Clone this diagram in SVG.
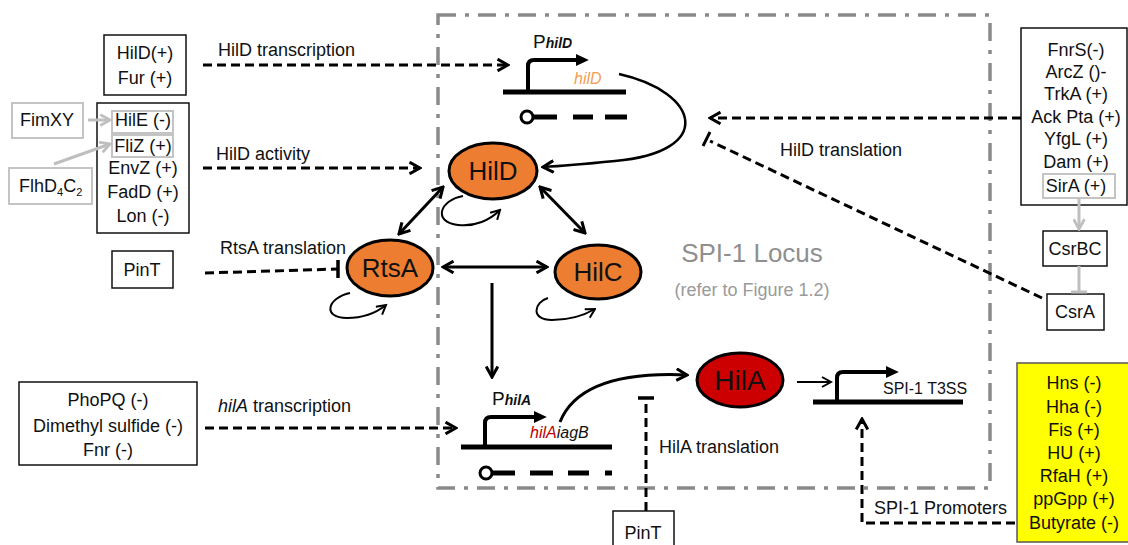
<svg xmlns="http://www.w3.org/2000/svg" width="1128" height="545" viewBox="0 0 1128 545">
<defs>
<style>
text{font-family:"Liberation Sans",Arial,sans-serif;fill:#111;}
.t{font-size:18px;}
.tc{font-size:18px;text-anchor:middle;}
.nl{font-size:26px;text-anchor:middle;}
.box{fill:#fff;stroke:#111;stroke-width:1.5;}
.gbox{fill:#fff;stroke:#c4c4c4;stroke-width:2;}
.dash{fill:none;stroke:#000;stroke-width:3;stroke-dasharray:9 5;}
.solid{fill:none;stroke:#000;stroke-width:3;}
.loop{fill:none;stroke:#000;stroke-width:2;}
.gray{fill:none;stroke:#bfbfbf;stroke-width:3;}
.dna{fill:none;stroke:#000;stroke-width:5;}
.prom{fill:none;stroke:#000;stroke-width:4;stroke-linejoin:round;}
.node{fill:#ed7d31;stroke:#000;stroke-width:3;}
</style>
<marker id="open" viewBox="0 0 12 12" markerUnits="userSpaceOnUse" markerWidth="14" markerHeight="14" refX="10.5" refY="6" orient="auto-start-reverse">
<path d="M1.5,1 L10.5,6 L1.5,11" fill="none" stroke="#000" stroke-width="2.6"/>
</marker>
<marker id="openS" viewBox="0 0 12 12" markerUnits="userSpaceOnUse" markerWidth="12" markerHeight="12" refX="10.5" refY="6" orient="auto">
<path d="M1.5,1 L10.5,6 L1.5,11" fill="none" stroke="#000" stroke-width="2"/>
</marker>
<marker id="grayOpen" viewBox="0 0 12 12" markerUnits="userSpaceOnUse" markerWidth="13" markerHeight="13" refX="10.5" refY="6" orient="auto">
<path d="M1.5,1 L10.5,6 L1.5,11" fill="none" stroke="#bfbfbf" stroke-width="2.6"/>
</marker>
<marker id="tri" viewBox="0 0 12 12" markerUnits="userSpaceOnUse" markerWidth="13" markerHeight="13" refX="2" refY="6" orient="auto">
<path d="M0,0.5 L12,6 L0,11.5 Z" fill="#000"/>
</marker>
</defs>
<rect width="1128" height="545" fill="#fff"/>

<!-- SPI-1 locus border -->
<g id="locus">
<rect x="438" y="15" width="552" height="473" fill="none" stroke="#8a8a8a" stroke-width="3.5" stroke-dasharray="18 9 4 9"/>
<text x="752" y="262" style="font-size:26px;fill:#8f8f8f;text-anchor:middle">SPI-1 Locus</text>
<text x="752" y="296" style="font-size:18px;fill:#9a9a9a;text-anchor:middle">(refer to Figure 1.2)</text>
</g>

<!-- regulator boxes -->
<g id="box-hild-fur">
<rect class="box" x="104" y="35" width="82" height="60"/>
<text class="tc" x="145" y="59">HilD(+)</text>
<text class="tc" x="145" y="84">Fur (+)</text>
</g>
<g id="box-hile">
<rect class="box" x="97" y="103" width="92" height="130"/>
<rect class="gbox" x="112" y="111" width="61" height="22"/>
<rect class="gbox" x="112" y="135" width="61" height="22"/>
<text class="tc" x="143" y="126">HilE (-)</text>
<text class="tc" x="143" y="152">FliZ (+)</text>
<text class="tc" x="143" y="174">EnvZ (+)</text>
<text class="tc" x="143" y="198">FadD (+)</text>
<text class="tc" x="143" y="222">Lon (-)</text>
</g>
<g id="box-fimxy">
<rect class="gbox" x="12" y="103" width="71" height="35"/>
<text class="tc" x="47" y="126">FimXY</text>
</g>
<g id="box-flhdc">
<rect class="gbox" x="9" y="168" width="83" height="36"/>
<text class="t" x="19" y="192">FlhD<tspan dy="4" style="font-size:11px">4</tspan><tspan dy="-4">C</tspan><tspan dy="4" style="font-size:11px">2</tspan></text>
</g>
<g id="box-pint-left">
<rect class="box" x="112" y="251" width="61" height="37"/>
<text class="tc" x="142" y="276">PinT</text>
</g>
<g id="box-phopq">
<rect class="box" x="19" y="382" width="178" height="83"/>
<text class="tc" x="108" y="406">PhoPQ (-)</text>
<text class="tc" x="108" y="432">Dimethyl sulfide (-)</text>
<text class="tc" x="108" y="456">Fnr (-)</text>
</g>
<g id="box-pint-bottom">
<rect class="box" x="613" y="511" width="61" height="40"/>
<text class="tc" x="643" y="539">PinT</text>
</g>
<g id="box-fnrs">
<rect class="box" x="1021" y="28" width="106" height="177"/>
<rect class="gbox" x="1043" y="174" width="72" height="24"/>
<text class="tc" x="1076" y="56">FnrS(-)</text>
<text class="tc" x="1076" y="78">ArcZ ()-</text>
<text class="tc" x="1076" y="100">TrkA (+)</text>
<text class="tc" x="1076" y="123">Ack Pta (+)</text>
<text class="tc" x="1076" y="145">YfgL (+)</text>
<text class="tc" x="1076" y="168">Dam (+)</text>
<text class="tc" x="1076" y="192">SirA (+)</text>
</g>
<g id="box-csrbc">
<rect class="box" x="1043" y="231" width="64" height="35"/>
<text class="tc" x="1075" y="255">CsrBC</text>
</g>
<g id="box-csra">
<rect class="box" x="1047" y="294" width="57" height="36"/>
<text class="tc" x="1075" y="318">CsrA</text>
</g>
<g id="box-hns">
<rect x="1017" y="363" width="112" height="179" fill="#ffff00" stroke="#555" stroke-width="1.5"/>
<text class="tc" x="1074" y="389">Hns (-)</text>
<text class="tc" x="1074" y="413">Hha (-)</text>
<text class="tc" x="1074" y="436">Fis (+)</text>
<text class="tc" x="1074" y="459">HU (+)</text>
<text class="tc" x="1074" y="482">RfaH (+)</text>
<text class="tc" x="1074" y="505">ppGpp (+)</text>
<text class="tc" x="1074" y="529">Butyrate (-)</text>
</g>

<!-- genes -->
<g id="gene-hild">
<line class="dna" x1="503" y1="92" x2="626" y2="92"/>
<path class="prom" d="M528,92 V66 Q528,60 534,60 H578" marker-end="url(#tri)"/>
<text x="533" y="48" style="font-size:19px">P<tspan style="font-size:14px;font-style:italic;font-weight:bold">hilD</tspan></text>
<text x="574" y="84" style="font-size:16px;font-style:italic;fill:#f59d56">hilD</text>
<circle cx="527" cy="117" r="6" fill="#fff" stroke="#000" stroke-width="3"/>
<line x1="533" y1="117" x2="557" y2="117" stroke="#000" stroke-width="5"/>
<line x1="573" y1="117" x2="593" y2="117" stroke="#000" stroke-width="5"/>
<line x1="605" y1="117" x2="627" y2="117" stroke="#000" stroke-width="5"/>
</g>
<g id="gene-hila">
<line class="dna" x1="461" y1="447" x2="612" y2="447"/>
<path class="prom" d="M485,447 V423 Q485,417 491,417 H536" marker-end="url(#tri)"/>
<text x="492" y="405" style="font-size:19px">P<tspan style="font-size:14px;font-style:italic;font-weight:bold">hilA</tspan></text>
<text x="530" y="438" style="font-size:16px;font-style:italic"><tspan style="fill:#c00000">hilA</tspan>iagB</text>
<circle cx="486" cy="473" r="6" fill="#fff" stroke="#000" stroke-width="3"/>
<line x1="492" y1="473" x2="515" y2="473" stroke="#000" stroke-width="5"/>
<line x1="530" y1="473" x2="553" y2="473" stroke="#000" stroke-width="5"/>
<line x1="568" y1="473" x2="589" y2="473" stroke="#000" stroke-width="5"/>
<line x1="605" y1="473" x2="612" y2="473" stroke="#000" stroke-width="5"/>
</g>
<g id="gene-t3ss">
<line class="dna" x1="813" y1="402" x2="963" y2="402"/>
<path class="prom" d="M837,402 V378 Q837,372 843,372 H888" marker-end="url(#tri)"/>
<text x="883" y="394" style="font-size:16px">SPI-1 T3SS</text>
</g>

<!-- protein nodes -->
<g id="node-hild">
<ellipse class="node" cx="493" cy="171" rx="44" ry="28"/>
<text class="nl" x="493" y="180">HilD</text>
</g>
<g id="node-rtsa">
<ellipse class="node" cx="390" cy="268" rx="43" ry="28"/>
<text class="nl" x="390" y="277">RtsA</text>
</g>
<g id="node-hilc">
<ellipse class="node" cx="598" cy="272" rx="43" ry="27"/>
<text class="nl" x="598" y="281">HilC</text>
</g>
<g id="node-hila">
<ellipse cx="740" cy="380" rx="43" ry="27" fill="#cc0000" stroke="#000" stroke-width="3"/>
<text x="740" y="390" style="font-size:28px;text-anchor:middle">HilA</text>
</g>

<!-- connectors -->
<g id="connectors">
<!-- HilD transcription -->
<line class="dash" x1="203" y1="65" x2="508" y2="65" marker-end="url(#open)"/>
<text class="t" x="218" y="56">HilD transcription</text>
<!-- HilD activity -->
<line class="dash" x1="203" y1="168" x2="420" y2="168" marker-end="url(#open)"/>
<text class="t" x="216" y="160">HilD activity</text>
<!-- RtsA translation -->
<line class="dash" x1="205" y1="273" x2="338" y2="269"/>
<line x1="338" y1="260" x2="338" y2="278" stroke="#000" stroke-width="3.5"/>
<text class="t" x="220" y="254">RtsA translation</text>
<!-- hilA transcription -->
<line class="dash" x1="205" y1="428" x2="456" y2="428" marker-end="url(#open)"/>
<text class="t" x="218" y="412"><tspan style="font-style:italic">hilA</tspan> transcription</text>
<!-- HilD translation -->
<line class="dash" x1="1021" y1="118" x2="710" y2="118" marker-end="url(#open)"/>
<text class="t" x="780" y="156">HilD translation</text>
<!-- CsrA inhibition -->
<line class="dash" x1="1042" y1="298" x2="710" y2="141"/>
<line x1="703" y1="146" x2="710" y2="132" stroke="#000" stroke-width="3"/>
<!-- hilD mRNA to HilD -->
<path d="M619,74 C700,92 716,152 615,161 C585,164 562,166 543,167" fill="none" stroke="#000" stroke-width="2.5" marker-end="url(#open)"/>
<!-- protein interactions -->
<line class="solid" x1="443" y1="187" x2="399" y2="234" marker-start="url(#open)" marker-end="url(#open)"/>
<line class="solid" x1="540" y1="187" x2="585" y2="233" marker-start="url(#open)" marker-end="url(#open)"/>
<line class="solid" x1="443" y1="267" x2="547" y2="267" marker-start="url(#open)" marker-end="url(#open)"/>
<line class="solid" x1="492" y1="283" x2="492" y2="377" marker-end="url(#open)"/>
<!-- self loops -->
<path class="loop" d="M463,196 C440,200 432,222 458,225 C475,227 490,220 500,210" marker-end="url(#openS)"/>
<path class="loop" d="M350,293 C327,298 322,318 347,318 C362,318 376,313 386,305" marker-end="url(#openS)"/>
<path class="loop" d="M548,298 C534,302 530,320 552,320 C568,320 583,316 595,309" marker-end="url(#openS)"/>
<!-- hilA mRNA to HilA -->
<path d="M560,422 C575,385 620,372 687,375" fill="none" stroke="#000" stroke-width="3" marker-end="url(#open)"/>
<!-- HilA translation -->
<line class="dash" x1="646" y1="511" x2="646" y2="399"/>
<line x1="638" y1="398" x2="654" y2="398" stroke="#000" stroke-width="3.5"/>
<text class="t" x="659" y="453">HilA translation</text>
<!-- HilA to T3SS -->
<line x1="797" y1="382" x2="831" y2="382" stroke="#000" stroke-width="2" marker-end="url(#openS)"/>
<!-- SPI-1 promoters -->
<path class="dash" d="M1015,523 H862 V419" marker-end="url(#open)"/>
<text class="t" x="874" y="514">SPI-1 Promoters</text>
<!-- gray connectors -->
<line class="gray" x1="88" y1="120" x2="110" y2="120" marker-end="url(#grayOpen)"/>
<line class="gray" x1="54" y1="164" x2="110" y2="144" marker-end="url(#grayOpen)"/>
<line class="gray" x1="1079" y1="199" x2="1079" y2="229" marker-end="url(#grayOpen)"/>
<line class="gray" x1="1079" y1="266" x2="1079" y2="292"/>
<line class="gray" x1="1071" y1="292" x2="1087" y2="292"/>
</g>
</svg>
